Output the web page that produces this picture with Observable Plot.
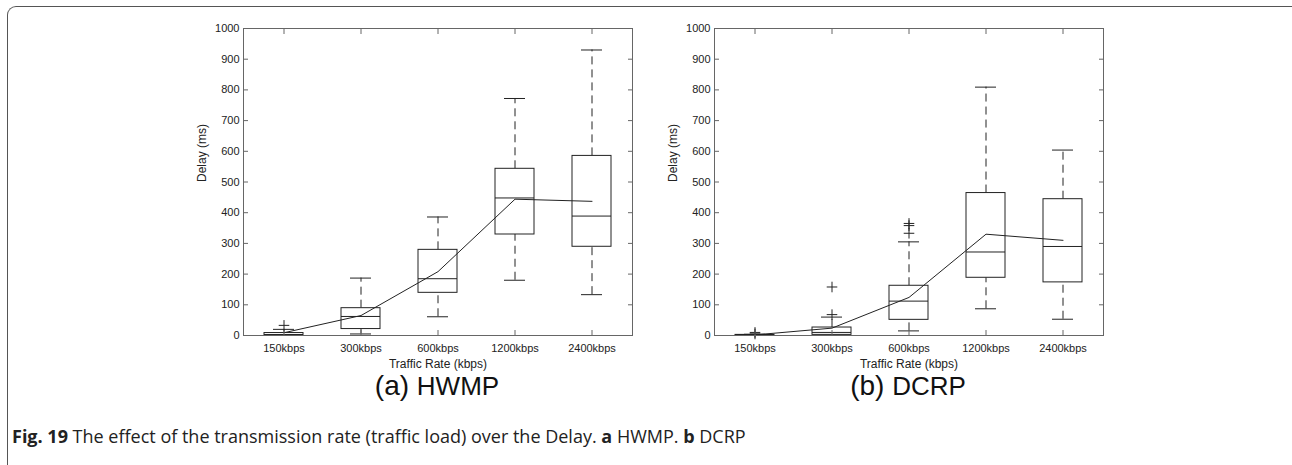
<!DOCTYPE html>
<html>
<head>
<meta charset="utf-8">
<script src="https://cdn.jsdelivr.net/npm/d3@7"></script>
<script src="https://cdn.jsdelivr.net/npm/@observablehq/plot@0.6"></script>
<style>
  html, body { margin: 0; padding: 0; background: #fff; }
  #page { position: relative; width: 1292px; height: 465px; overflow: hidden; background: #fff; }
  #frame { position: absolute; left: 7px; top: 6px; width: 1320px; height: 500px;
           border-top: 1.3px solid #555; border-left: 1.3px solid #555; border-top-left-radius: 9px; }
  .chart { position: absolute; top: 0; }
  .sub { position: absolute; top: 368px; line-height: 36px; font-family: "Liberation Sans", Arial, sans-serif; font-size: 28px; color: #111; transform: translateX(-50%); white-space: nowrap; }
  .sub .s { font-size: 26px; }
  #caption { position: absolute; left: 12px; top: 424px; font-family: "Open Sans", sans-serif; font-size: 18px; line-height: 25px; color: #222; white-space: nowrap; }
  #caption b { font-weight: 700; }
</style>
</head>
<body>
<div id="page">
  <div id="frame"></div>
  <div id="c1" class="chart" style="left:180px"></div>
  <div id="c2" class="chart" style="left:650px"></div>
  <div class="sub" style="left:437px">(a) <span class="s">HWMP</span></div>
  <div class="sub" style="left:908px">(b) <span class="s">DCRP</span></div>
  <div id="caption"><b>Fig. 19</b> The effect of the transmission rate (traffic load) over the Delay. <b>a</b> HWMP. <b>b</b> DCRP</div>
</div>
<script>
const categories = ["150kbps", "300kbps", "600kbps", "1200kbps", "2400kbps"];
const yTicks = [0, 100, 200, 300, 400, 500, 600, 700, 800, 900, 1000];

// HWMP
const hwmpLow    = [0,   5,  61, 180, 133];
const hwmpQ1     = [1,  21, 139, 329, 289];
const hwmpMedian = [3,  62, 185, 448, 389];
const hwmpQ3     = [8,  89, 279, 543, 585];
const hwmpHigh   = [20, 187, 386, 772, 930];
const hwmpMean   = [9,  65, 208, 444, 437];
const hwmpOutCat = ["150kbps"];
const hwmpOutVal = [33];

// DCRP
const dcrpLow    = [0,  0,  15,  87,  53];
const dcrpQ1     = [0,  2,  51, 188, 173];
const dcrpMedian = [1, 10, 112, 272, 290];
const dcrpQ3     = [2, 26, 162, 464, 444];
const dcrpHigh   = [4, 60, 305, 809, 604];
const dcrpMean   = [2, 24, 124, 330, 310];
const dcrpOutCat = ["150kbps", "150kbps", "300kbps", "300kbps", "600kbps", "600kbps", "600kbps"];
const dcrpOutVal = [5, 10, 68, 158, 333, 358, 365];

function build(low, q1, med, q3, high, mean, outCat, outVal, marginLeft, marginRight) {
  const rows = categories.map((c, i) => ({cat: c, low: low[i], q1: q1[i], med: med[i], q3: q3[i], high: high[i], mean: mean[i]}));
  const outs = outCat.map((c, i) => ({cat: c, v: outVal[i]}));
  const ink = "#222";
  return Plot.plot({
    width: 470,
    height: 375,
    marginLeft, marginRight,
    marginTop: 28,
    marginBottom: 40,
    style: {fontFamily: "'Liberation Sans', Arial, sans-serif", fontSize: "11px", color: "#222", background: "transparent"},
    x: {type: "band", domain: categories, paddingInner: 0.5, paddingOuter: 0.25, label: null},
    y: {domain: [0, 1000], ticks: yTicks, label: null},
    marks: [
      Plot.ruleX(rows, {x: "cat", y1: "q3", y2: "high", stroke: ink, strokeWidth: 1, strokeDasharray: "8,5"}),
      Plot.ruleX(rows, {x: "cat", y1: "low", y2: "q1", stroke: ink, strokeWidth: 1, strokeDasharray: "8,5"}),
      Plot.tickY(rows, {x: "cat", y: "high", stroke: ink, insetLeft: 9, insetRight: 9}),
      Plot.tickY(rows, {x: "cat", y: "low", stroke: ink, insetLeft: 9, insetRight: 9}),
      Plot.barY(rows, {x: "cat", y1: "q1", y2: "q3", fill: "white", stroke: ink, strokeWidth: 1}),
      Plot.tickY(rows, {x: "cat", y: "med", stroke: ink, strokeWidth: 1}),
      Plot.dot(outs, {x: "cat", y: "v", symbol: "plus", r: 3.5, stroke: ink, strokeWidth: 1}),
      Plot.line(rows, {x: "cat", y: "mean", stroke: ink, strokeWidth: 1}),
      Plot.frame({stroke: "#666", strokeWidth: 1}),
      Plot.axisY({anchor: "left", ticks: yTicks, tickFormat: "d", tickSize: -5, tickPadding: 9, stroke: "#666", label: null}),
      Plot.axisY({anchor: "right", ticks: yTicks, tickSize: -5, stroke: "#666", tickFormat: () => "", label: null}),
      Plot.axisX({anchor: "bottom", tickSize: -5, tickPadding: 14, stroke: "#666", label: null}),
      Plot.axisX({anchor: "top", tickSize: -5, stroke: "#666", tickFormat: () => "", label: null}),
      Plot.text(["Delay (ms)"], {frameAnchor: "left", dx: -41, rotate: -90, fontSize: 12, fill: "#222"}),
      Plot.text(["Traffic Rate (kbps)"], {frameAnchor: "bottom", lineAnchor: "middle", dy: 29, fontSize: 12, fill: "#222"})
    ]
  });
}

document.getElementById("c1").append(build(hwmpLow, hwmpQ1, hwmpMedian, hwmpQ3, hwmpHigh, hwmpMean, hwmpOutCat, hwmpOutVal, 63, 18));
document.getElementById("c2").append(build(dcrpLow, dcrpQ1, dcrpMedian, dcrpQ3, dcrpHigh, dcrpMean, dcrpOutCat, dcrpOutVal, 64, 17));
</script>
</body>
</html>
